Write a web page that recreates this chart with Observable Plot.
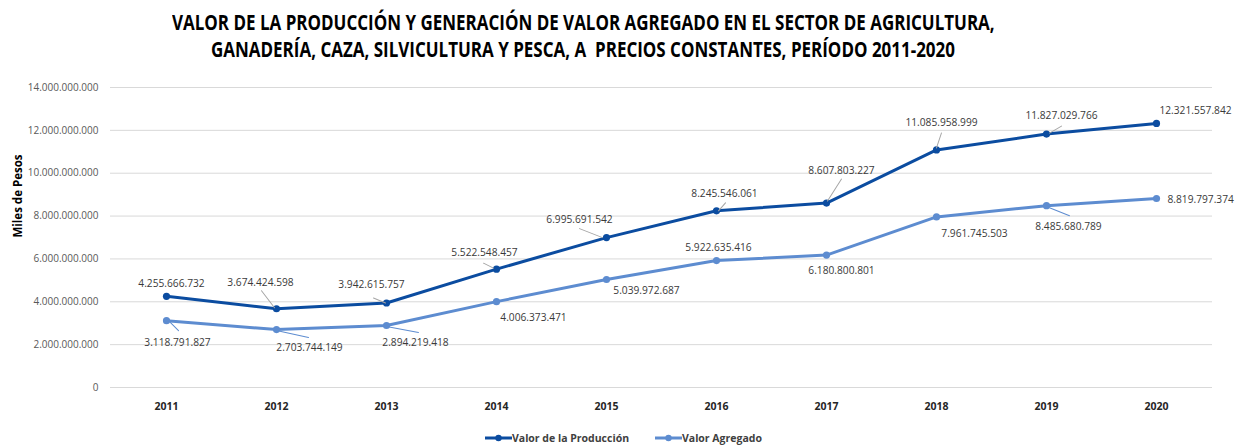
<!DOCTYPE html>
<html><head><meta charset="utf-8">
<script src="https://cdn.jsdelivr.net/npm/d3@7"></script>
<script src="https://cdn.jsdelivr.net/npm/@observablehq/plot@0.6"></script>
<style>
body{margin:0;background:#fff;width:1236px;height:448px;overflow:hidden;font-family:"Open Sans",sans-serif}
#title{height:68px;position:relative}
#title span{position:absolute;display:inline-block;font-weight:700;font-size:21px;line-height:21px;color:#000;white-space:nowrap;transform-origin:0 0}
#legend{position:relative;height:20px}
.item{position:absolute;top:0;display:flex;align-items:center;height:20px;font-weight:700;font-size:10.5px;color:#404040}
.item svg{display:block}
</style></head>
<body>
<div id="title"><span id="t1">VALOR DE LA PRODUCCIÓN Y GENERACIÓN DE VALOR AGREGADO EN EL SECTOR DE AGRICULTURA,</span><span id="t2">GANADERÍA, CAZA, SILVICULTURA Y PESCA, A&nbsp; PRECIOS CONSTANTES, PERÍODO 2011-2020</span></div>
<div id="chart"></div>
<div id="legend"></div>
<script>
// ---- data ----
const years = ["2011","2012","2013","2014","2015","2016","2017","2018","2019","2020"];
const produccion = [4255666732, 3674424598, 3942615757, 5522548457, 6995691542, 8245546061, 8607803227, 11085958999, 11827029766, 12321557842];
const agregado = [3118791827, 2703744149, 2894219418, 4006373471, 5039972687, 5922635416, 6180800801, 7961745503, 8485680789, 8819797374];
const seriesNames = ["Valor de la Producción", "Valor Agregado"];
const yTicks = [0, 2e9, 4e9, 6e9, 8e9, 10e9, 12e9, 14e9];
const yLabel = "Miles de Pesos";

// ---- layout (label offsets in px relative to each point) ----
const prodLabelOffsets = [[5,-13],[-16,-26],[-15,-18],[-12,-16],[-27,-18],[8,-17],[15,-32],[5,-27],[15,-18],[39,-13]];
const prodLeaders = [null,[-15,-18,-2,-1],[-13,-5,-1,0],[-13,-6,-3,-1],[-27,-9,-4,0],[9,-8,2,0],[15,-24,1,-2],[5,-17,0,-2],[15,-8,3,-1],null];
const agrLabelOffsets = [[11,22],[33,18],[29,17],[37,16],[40,11],[2,-13],[15,16],[38,17],[22,21],[11,1]];
const agrLeaders = [[2,0,12,10],[0,1,32,8],[0,1,32,7],null,null,null,null,null,[3,2,23,10],null];

const colors = ["#0b4ca0", "#5d8cd0"];
const leaderColors = ["#a6a6a6", "#5d8cd0"];

const locale = d3.formatLocale({decimal: ",", thousands: ".", grouping: [3], currency: ["", ""]});
const fmt = locale.format(",d");

const series = [produccion, agregado];
const table = series.map((vals, s) => years.map((year, i) => ({year, value: vals[i], series: seriesNames[s]})));

const stick = {draw(context, l) { context.moveTo(0, 0); context.lineTo(0, -l); }};

const marks = [
  Plot.ruleY(yTicks, {stroke: "#d9d9d9", strokeWidth: 1}),
  Plot.axisY({ticks: yTicks, tickSize: 0, tickPadding: 12, tickFormat: fmt, label: null, fontSize: 10, fill: "#595959"}),
  Plot.axisX({tickSize: 0, tickPadding: 15, label: null, fontSize: 10.5, fontWeight: "bold", fill: "#262626"}),
  Plot.text([yLabel], {frameAnchor: "left", dx: -92, rotate: -90, text: d => d, fontSize: 11.5, fontWeight: "bold", fill: "#000"})
];

series.forEach((vals, s) => {
  marks.push(Plot.line(table[s], {x: "year", y: "value", stroke: colors[s], strokeWidth: 3}));
  marks.push(Plot.dot(table[s], {x: "year", y: "value", r: 3.6, fill: colors[s]}));
});

function addLabels(s, offsets, leaders) {
  table[s].forEach((d, i) => {
    const L = leaders[i];
    if (L) {
      const ddx = L[2] - L[0], ddy = L[3] - L[1];
      marks.push(Plot.vector([d], {x: "year", y: "value", dx: L[0], dy: L[1], length: Math.hypot(ddx, ddy),
        rotate: Math.atan2(ddx, -ddy) * 180 / Math.PI, anchor: "start", shape: stick, stroke: leaderColors[s], strokeWidth: 1}));
    }
    const [ox, oy] = offsets[i];
    const startAnchor = (s === 1 && i === years.length - 1);
    marks.push(Plot.text([d], {x: "year", y: "value", text: r => fmt(r.value), dx: ox, dy: oy,
      textAnchor: startAnchor ? "start" : "middle", fontSize: 10.2, fill: "#3a3a3a"}));
  });
}
addLabels(0, prodLabelOffsets, prodLeaders);
addLabels(1, agrLabelOffsets, agrLeaders);

const chart = Plot.plot({
  width: 1236, height: 360,
  marginLeft: 110, marginRight: 24, marginTop: 19, marginBottom: 41,
  style: {fontFamily: "Open Sans, sans-serif", background: "#fff"},
  x: {type: "point", domain: years, padding: 0.5},
  y: {domain: [0, 14e9]},
  marks
});
document.getElementById("chart").appendChild(chart);

// ---- title fit ----
const t1 = document.getElementById("t1"), t2 = document.getElementById("t2");
const w1 = t1.offsetWidth, w2 = t2.offsetWidth;
const sc = 823 / w1, cx = 583;
[[t1, w1, 23], [t2, w2, 50]].forEach(([el, w, cy]) => {
  el.style.transform = `scaleX(${sc})`;
  el.style.left = (cx - w * sc / 2) + "px";
  el.style.top = (cy - 11.1) + "px";
});

// ---- legend ----
const legend = document.getElementById("legend");
const legendLeft = [485, 655];
seriesNames.forEach((name, s) => {
  const it = document.createElement("div");
  it.className = "item";
  it.style.left = legendLeft[s] + "px";
  it.innerHTML = `<svg width="27" height="8"><line x1="0" x2="27" y1="4" y2="4" stroke="${colors[s]}" stroke-width="3"/><circle cx="13.5" cy="4" r="3.2" fill="${colors[s]}"/></svg><span>${name}</span>`;
  legend.appendChild(it);
});
</script>
</body></html>
